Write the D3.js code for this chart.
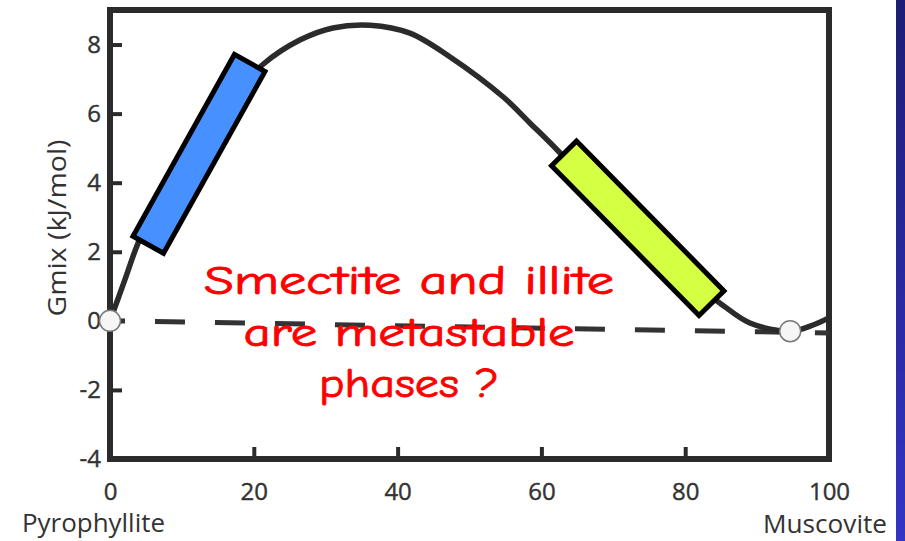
<!DOCTYPE html>
<html>
<head>
<meta charset="utf-8">
<script src="https://cdn.jsdelivr.net/npm/d3@7"></script>
<style>
  html, body { margin: 0; padding: 0; background: #fff; }
  svg { display: block; }
</style>
</head>
<body>
<svg id="chart" width="905" height="541"></svg>
<script>
// Free energy of mixing across the pyrophyllite–muscovite join
const curveX = [0, 2.0, 3.9, 6.5, 10, 15, 21.3, 26.4, 31.0, 36.2, 41.7, 47.3, 54.7, 58.4, 62.6, 68, 74, 80, 84.8, 89.0, 94.6, 97.8, 99.9];
const curveY = [0, 1.15, 2.25, 3.4, 4.6, 6.0, 7.43, 8.13, 8.48, 8.56, 8.33, 7.64, 6.48, 5.73, 4.86, 3.6, 2.3, 1.25, 0.52, -0.06, -0.30, -0.12, 0.08];

// Common tangent (dashed) and its tangent points
const tangentX = [0, 100];
const tangentY = [0, -0.35];
const pointX = [0, 94.6];
const pointY = [0, -0.30];

// Composition bands drawn over the curve: centre-line ends (x, y)
const bandNames = ["smectite", "illite"];
const bandStartX = [5.15, 62.9];
const bandStartY = [2.14, 4.90];
const bandEndX = [19.6, 83.9];
const bandEndY = [7.53, 0.46];
const bandColors = ["#4690ff", "#d4ff42"];

const xTicks = [0, 20, 40, 60, 80, 100];
const yTicks = [-4, -2, 0, 2, 4, 6, 8];
const xDomain = [0, 100];
const yDomain = [-4, 9];

const noteLines = ["Smectite and illite", "are metastable", "phases ?"];
const yTitle = "Gmix (kJ/mol)";
const leftEnd = "Pyrophyllite";
const rightEnd = "Muscovite";

const svg = d3.select("#chart");
const W = 905, H = 541;
const plot = { left: 110, right: 829, top: 10, bottom: 459 };

const x = d3.scaleLinear().domain(xDomain).range([plot.left, plot.right]);
const y = d3.scaleLinear().domain(yDomain).range([plot.bottom, plot.top]);

const ink = "#2b2b2b";
const labelFont = "'Open Sans', 'Liberation Sans', sans-serif";

// slide edge strip
const grad = svg.append("defs").append("linearGradient")
  .attr("id", "edge").attr("x1", 0).attr("y1", 0).attr("x2", 0).attr("y2", 1);
grad.append("stop").attr("offset", 0).attr("stop-color", "#1d1d74");
grad.append("stop").attr("offset", 1).attr("stop-color", "#3434c6");
svg.append("rect").attr("x", 896).attr("y", 0).attr("width", W - 896).attr("height", H)
  .attr("fill", "url(#edge)");

// axes with inward ticks; plain hyphen for negatives
const plain = d => String(d);
const yAxis = d3.axisLeft(y).tickValues(yTicks).tickSize(-12).tickPadding(9).tickFormat(plain);
const xAxis = d3.axisBottom(x).tickValues(xTicks).tickSize(-12).tickPadding(24).tickFormat(plain);

const gy = svg.append("g").attr("transform", `translate(${plot.left},0)`).call(yAxis);
const gx = svg.append("g").attr("transform", `translate(0,${plot.bottom})`).call(xAxis);
[gy, gx].forEach(g => {
  g.select(".domain").remove();
  g.selectAll(".tick line").attr("stroke", ink).attr("stroke-width", 4);
  g.selectAll(".tick text").attr("fill", "#333")
    .attr("stroke", "#333").attr("stroke-width", 0.4)
    .style("font-family", labelFont).style("font-size", "24px");
});

// frame
svg.append("rect")
  .attr("x", plot.left).attr("y", plot.top)
  .attr("width", plot.right - plot.left).attr("height", plot.bottom - plot.top)
  .attr("fill", "none").attr("stroke", ink).attr("stroke-width", 6);

// axis titles
svg.append("text")
  .attr("transform", `translate(66,228) rotate(-90)`)
  .attr("text-anchor", "middle").attr("fill", "#333")
  .attr("textLength", 177).attr("lengthAdjust", "spacingAndGlyphs")
  .style("font-family", labelFont).style("font-size", "26px")
  .text(yTitle);
svg.append("text").attr("x", 22).attr("y", 532).attr("fill", "#333")
  .attr("textLength", 143).attr("lengthAdjust", "spacingAndGlyphs")
  .style("font-family", labelFont).style("font-size", "25px").text(leftEnd);
svg.append("text").attr("x", 825).attr("y", 533).attr("text-anchor", "middle").attr("fill", "#333")
  .attr("textLength", 124).attr("lengthAdjust", "spacingAndGlyphs")
  .style("font-family", labelFont).style("font-size", "25px").text(rightEnd);

// dashed common tangent
const tangent = d3.range(tangentX.length).map(i => [tangentX[i], tangentY[i]]);
svg.append("path")
  .attr("d", d3.line().x(d => x(d[0])).y(d => y(d[1]))(tangent))
  .attr("fill", "none").attr("stroke", "#333").attr("stroke-width", 5)
  .attr("stroke-dasharray", "30,30").attr("stroke-dashoffset", 15);

// mixing curve
const curve = d3.range(curveX.length).map(i => [curveX[i], curveY[i]]);
svg.append("path")
  .attr("d", d3.line().x(d => x(d[0])).y(d => y(d[1])).curve(d3.curveCatmullRom.alpha(0.5))(curve))
  .attr("fill", "none").attr("stroke", ink).attr("stroke-width", 5.5)
  .attr("stroke-linecap", "round");

// tangent points
svg.selectAll("circle.pt").data(d3.range(pointX.length)).join("circle")
  .attr("class", "pt")
  .attr("cx", i => x(pointX[i])).attr("cy", i => y(pointY[i])).attr("r", 10.5)
  .attr("fill", "#f6f6f6").attr("stroke", "#7a7a7a").attr("stroke-width", 1.5);

// composition bands
const bandWidth = 35, bandStroke = 5;
function bandPolygon(i) {
  const x0 = x(bandStartX[i]), y0 = y(bandStartY[i]);
  const x1 = x(bandEndX[i]), y1 = y(bandEndY[i]);
  const len = Math.hypot(x1 - x0, y1 - y0);
  const ux = (x1 - x0) / len, uy = (y1 - y0) / len;
  const inset = bandStroke / 2;
  const ax = x0 + ux * inset, ay = y0 + uy * inset;
  const bx = x1 - ux * inset, by = y1 - uy * inset;
  const nx = -uy * bandWidth / 2, ny = ux * bandWidth / 2;
  return [[ax + nx, ay + ny], [bx + nx, by + ny], [bx - nx, by - ny], [ax - nx, ay - ny]]
    .map(p => p.join(",")).join(" ");
}
svg.selectAll("polygon.band").data(bandNames).join("polygon")
  .attr("class", d => "band " + d)
  .attr("points", (d, i) => bandPolygon(i))
  .attr("fill", (d, i) => bandColors[i])
  .attr("stroke", "#000").attr("stroke-width", bandStroke).attr("stroke-linejoin", "miter");

// note
const noteBase = [294, 346, 397];
const noteWidth = [410, 331, 180];
svg.selectAll("text.note").data(noteLines).join("text")
  .attr("class", "note")
  .attr("x", 409).attr("y", (d, i) => noteBase[i])
  .attr("text-anchor", "middle").attr("fill", "#ff0000")
  .attr("stroke", "#ff0000").attr("stroke-width", 0.9).attr("stroke-linejoin", "round")
  .attr("textLength", (d, i) => noteWidth[i]).attr("lengthAdjust", "spacingAndGlyphs")
  .style("font-family", "'Comic Sans MS', 'Comic Neue', 'DejaVu Sans', sans-serif")
  .style("font-size", "40px")
  .text(d => d);
</script>
</body>
</html>
